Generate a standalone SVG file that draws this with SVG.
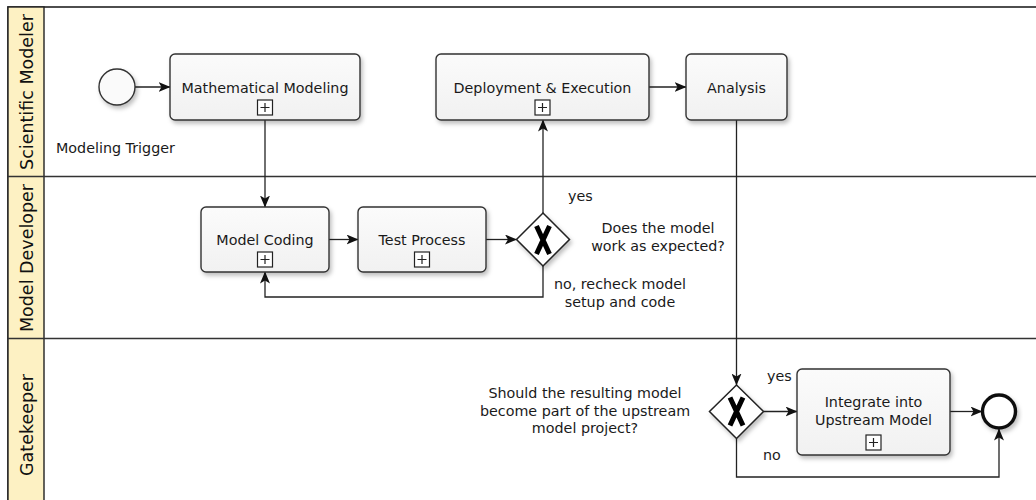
<svg xmlns="http://www.w3.org/2000/svg" width="1036" height="500" viewBox="0 0 1036 500">
<defs>
  <linearGradient id="taskFill" x1="0" y1="0" x2="0" y2="1">
    <stop offset="0" stop-color="#fbfbfb"/>
    <stop offset="1" stop-color="#f1f1f1"/>
  </linearGradient>
  <filter id="shadow" x="-10%" y="-10%" width="130%" height="140%">
    <feDropShadow dx="2" dy="3" stdDeviation="2" flood-color="#000" flood-opacity="0.25"/>
  </filter>
  <marker id="arrow" viewBox="0 0 12 10" refX="11.5" refY="5" markerWidth="12" markerHeight="10" markerUnits="userSpaceOnUse" orient="auto">
    <path d="M0,0 L12,5 L0,10 L3,5 Z" fill="#111"/>
  </marker>
</defs>
<style>
  .pool { fill: #ffffff; stroke: #222; stroke-width: 1.6; }
  .laneLabelBg { fill: #fdf1c3; stroke: #222; stroke-width: 1.4; }
  .laneLine { stroke: #333; stroke-width: 1.6; }
  .laneText { font-family: "DejaVu Sans", sans-serif; font-size: 17.5px; fill: #111; text-anchor: middle; }
  .task { fill: url(#taskFill); stroke: #333; stroke-width: 1.4; filter: url(#shadow); }
  .marker { fill: #fff; stroke: #222; stroke-width: 1.2; }
  .markerPlus { stroke: #222; stroke-width: 1.2; }
  .label { font-family: "DejaVu Sans", sans-serif; font-size: 14.3px; fill: #1a1a1a; text-anchor: middle; }
  .labelStart { font-family: "DejaVu Sans", sans-serif; font-size: 14.3px; fill: #1a1a1a; }
  .flow { fill: none; stroke: #222; stroke-width: 1.3; marker-end: url(#arrow); }
  .gateway { fill: #fff; stroke: #222; stroke-width: 1.5; filter: url(#shadow); }
  .gwX { stroke: #000; stroke-width: 5; stroke-linecap: butt; fill: none; }
  .startEvent { fill: #fafafa; stroke: #333; stroke-width: 1.4; filter: url(#shadow); }
  .endEvent { fill: #fff; stroke: #111; stroke-width: 3.4; filter: url(#shadow); }
</style>

<!-- Pool and lanes -->
<g id="pool">
  <rect class="pool" x="8" y="7" width="1040" height="510"/>
  <rect class="laneLabelBg" x="8" y="7" width="36" height="510"/>
  <line class="laneLine" x1="8" y1="176.5" x2="1040" y2="176.5"/>
  <line class="laneLine" x1="8" y1="338.5" x2="1040" y2="338.5"/>
</g>
<g id="lane-scientific-modeler">
  <text class="laneText" transform="translate(32.5,92) rotate(-90)">Scientific Modeler</text>
</g>
<g id="lane-model-developer">
  <text class="laneText" transform="translate(32.5,258) rotate(-90)">Model Developer</text>
</g>
<g id="lane-gatekeeper">
  <text class="laneText" transform="translate(32.5,425) rotate(-90)">Gatekeeper</text>
</g>

<!-- Connectors -->
<g id="connectors">
  <path class="flow" d="M135,87 L170,87"/>
  <path class="flow" d="M649,87 L686,87"/>
  <path class="flow" d="M265,120 L265,207"/>
  <path class="flow" d="M329,239.5 L358,239.5"/>
  <path class="flow" d="M486,239.5 L516.5,239.5"/>
  <path class="flow" d="M543,213 L543,120"/>
  <path class="flow" d="M543,266 L543,297 L265,297 L265,272"/>
  <path class="flow" d="M736.5,120 L736.5,385"/>
  <path class="flow" d="M763.5,411.5 L797,411.5"/>
  <path class="flow" d="M950,411.5 L982,411.5"/>
  <path class="flow" d="M736.5,438.5 L736.5,477 L999,477 L999,429"/>
</g>

<!-- Nodes -->
<g id="start-event">
  <circle class="startEvent" cx="117" cy="87" r="18"/>
  <text class="labelStart" x="56" y="153">Modeling Trigger</text>
</g>

<g id="task-mathematical-modeling">
  <rect class="task" x="170" y="54" width="190" height="66" rx="5"/>
  <text class="label" x="265" y="92.5">Mathematical Modeling</text>
  <rect class="marker" x="257.5" y="100" width="15" height="15"/>
  <path class="markerPlus" d="M260.5,107.5 H269.5 M265,103 V112"/>
</g>

<g id="task-deployment-execution">
  <rect class="task" x="436" y="54" width="213" height="66" rx="5"/>
  <text class="label" x="542.5" y="92.5">Deployment &amp; Execution</text>
  <rect class="marker" x="535" y="100" width="15" height="15"/>
  <path class="markerPlus" d="M538,107.5 H547 M542.5,103 V112"/>
</g>

<g id="task-analysis">
  <rect class="task" x="686" y="54" width="101" height="66" rx="5"/>
  <text class="label" x="736.5" y="92.5">Analysis</text>
</g>

<g id="task-model-coding">
  <rect class="task" x="201" y="207" width="128" height="65" rx="5"/>
  <text class="label" x="265" y="245">Model Coding</text>
  <rect class="marker" x="257.5" y="252" width="15" height="15"/>
  <path class="markerPlus" d="M260.5,259.5 H269.5 M265,255 V264"/>
</g>

<g id="task-test-process">
  <rect class="task" x="358" y="207" width="128" height="65" rx="5"/>
  <text class="label" x="422" y="245">Test Process</text>
  <rect class="marker" x="414.5" y="252" width="15" height="15"/>
  <path class="markerPlus" d="M417.5,259.5 H426.5 M422,255 V264"/>
</g>

<g id="gateway-model-works">
  <polygon class="gateway" points="543,213 569.5,239.5 543,266 516.5,239.5"/>
  <path class="gwX" d="M536.5,226 Q543,240 549.5,254 M549.5,226 Q543,240 536.5,254"/>
  <text class="label" x="568" y="201" style="text-anchor:start">yes</text>
  <text class="label" x="658" y="233">Does the model</text>
  <text class="label" x="658" y="251">work as expected?</text>
  <text class="label" x="620" y="289">no, recheck model</text>
  <text class="label" x="620" y="307">setup and code</text>
</g>

<g id="gateway-upstream">
  <polygon class="gateway" points="736.5,385 763.5,411.5 736.5,438.5 709.5,411.5"/>
  <path class="gwX" d="M730,397.5 Q736.5,411.5 743,425.5 M743,397.5 Q736.5,411.5 730,425.5"/>
  <text class="label" x="767" y="381" style="text-anchor:start">yes</text>
  <text class="label" x="763" y="460" style="text-anchor:start">no</text>
  <text class="label" x="585" y="398">Should the resulting model</text>
  <text class="label" x="585" y="415.5">become part of the upstream</text>
  <text class="label" x="585" y="433">model project?</text>
</g>

<g id="task-integrate">
  <rect class="task" x="797" y="369" width="153" height="86" rx="5"/>
  <text class="label" x="873.5" y="407">Integrate into</text>
  <text class="label" x="873.5" y="425">Upstream Model</text>
  <rect class="marker" x="866" y="435" width="15" height="15"/>
  <path class="markerPlus" d="M869,442.5 H878 M873.5,438 V447"/>
</g>

<g id="end-event">
  <circle class="endEvent" cx="999" cy="411.5" r="16.5"/>
</g>
</svg>
